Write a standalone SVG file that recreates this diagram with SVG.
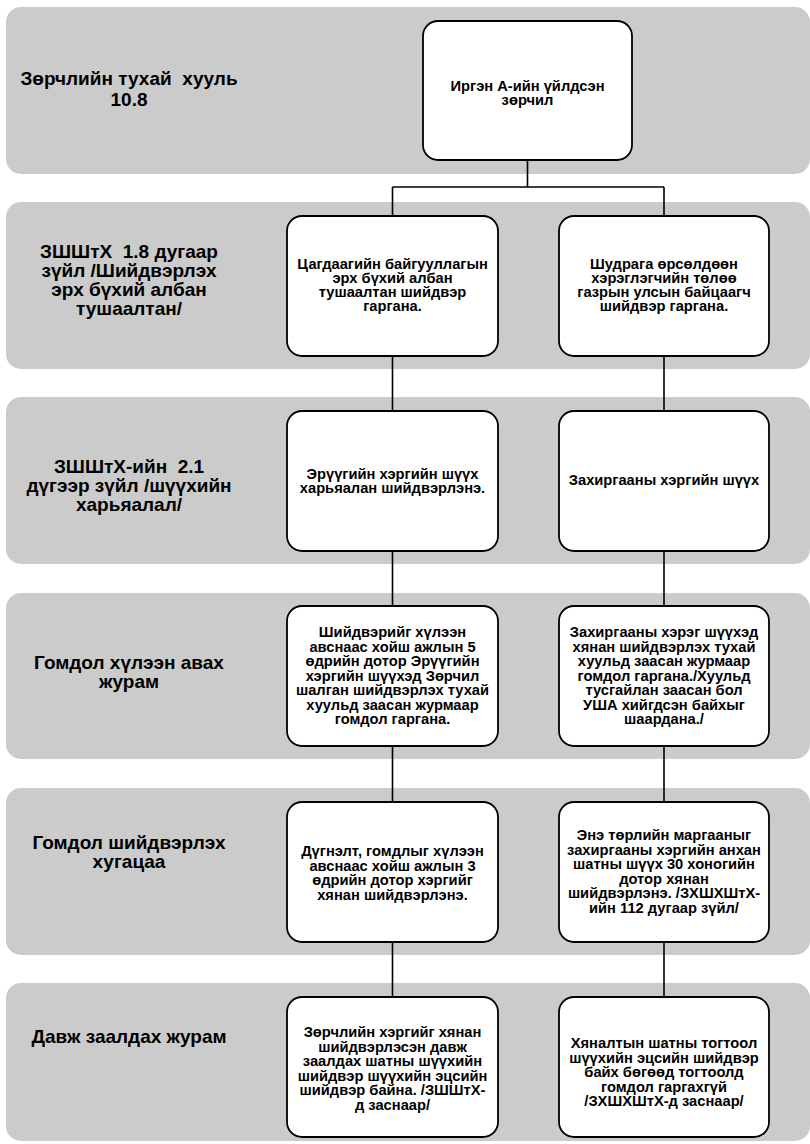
<svg xmlns="http://www.w3.org/2000/svg" width="810" height="1144" viewBox="0 0 810 1144">
<style>
.band{fill:#cbcbcb;stroke:none}
.box{fill:#ffffff;stroke:#000000;stroke-width:1.8}
.con{stroke:#000000;stroke-width:1.6;fill:none}
.lbl{font-family:"Liberation Sans",Arial,sans-serif;font-weight:bold;font-size:19px;fill:#000;text-anchor:middle}
.t{font-family:"Liberation Sans",Arial,sans-serif;font-weight:bold;font-size:14.7px;fill:#000;text-anchor:middle}
</style>
<rect width="810" height="1144" fill="#ffffff"/>
<g id="bands">
<g id="band1"><rect class="band" x="6" y="7" width="804" height="167" rx="15"/>
<text class="lbl" xml:space="preserve"><tspan x="129" y="85">Зөрчлийн тухай  хууль</tspan><tspan x="129" y="106">10.8</tspan></text></g>
<g id="band2"><rect class="band" x="6" y="202" width="804" height="167" rx="15"/>
<text class="lbl" xml:space="preserve"><tspan x="129" y="258">ЗШШтХ  1.8 дугаар</tspan><tspan x="129" y="277">зүйл /Шийдвэрлэх</tspan><tspan x="129" y="296">эрх бүхий албан</tspan><tspan x="129" y="315">тушаалтан/</tspan></text></g>
<g id="band3"><rect class="band" x="6" y="397" width="804" height="167" rx="15"/>
<text class="lbl" xml:space="preserve"><tspan x="129" y="473">ЗШШтХ-ийн  2.1</tspan><tspan x="129" y="492">дүгээр зүйл /шүүхийн</tspan><tspan x="129" y="511">харьяалал/</tspan></text></g>
<g id="band4"><rect class="band" x="6" y="593" width="804" height="166" rx="15"/>
<text class="lbl"><tspan x="129" y="669">Гомдол хүлээн авах</tspan><tspan x="129" y="688">журам</tspan></text></g>
<g id="band5"><rect class="band" x="6" y="788" width="804" height="167" rx="15"/>
<text class="lbl"><tspan x="129" y="849">Гомдол шийдвэрлэх</tspan><tspan x="129" y="868">хугацаа</tspan></text></g>
<g id="band6"><rect class="band" x="6" y="983" width="804" height="158" rx="15"/>
<text class="lbl"><tspan x="129" y="1043">Давж заалдах журам</tspan></text></g>
</g>
<g id="connectors">
<path class="con" d="M527.5 160 V187 M392.5 187 H664 M392.5 187 V216 M664 187 V216"/>
<path class="con" d="M392.5 356 V411 M392.5 551 V606 M392.5 746 V802 M392.5 942 V997"/>
<path class="con" d="M664 356 V411 M664 551 V606 M664 746 V802 M664 942 V997"/>
</g>
<g id="n0"><rect class="box" x="423" y="21" width="209" height="139" rx="15"/>
<text class="t"><tspan x="527.5" y="91">Иргэн А-ийн үйлдсэн</tspan><tspan x="527.5" y="105">зөрчил</tspan></text></g>
<g id="n1"><rect class="box" x="287" y="216" width="211" height="140" rx="15"/>
<text class="t"><tspan x="392.5" y="269">Цагдаагийн байгууллагын</tspan><tspan x="392.5" y="283">эрх бүхий албан</tspan><tspan x="392.5" y="297">тушаалтан шийдвэр</tspan><tspan x="392.5" y="311">гаргана.</tspan></text></g>
<g id="n2"><rect class="box" x="559" y="216" width="210" height="140" rx="15"/>
<text class="t"><tspan x="664" y="269">Шудрага өрсөлдөөн</tspan><tspan x="664" y="283">хэрэглэгчийн төлөө</tspan><tspan x="664" y="297">газрын улсын байцаагч</tspan><tspan x="664" y="311">шийдвэр гаргана.</tspan></text></g>
<g id="n3"><rect class="box" x="287" y="411" width="211" height="140" rx="15"/>
<text class="t"><tspan x="392.5" y="479">Эрүүгийн хэргийн шүүх</tspan><tspan x="392.5" y="493">харьяалан шийдвэрлэнэ.</tspan></text></g>
<g id="n4"><rect class="box" x="559" y="411" width="210" height="140" rx="15"/>
<text class="t"><tspan x="664" y="485">Захиргааны хэргийн шүүх</tspan></text></g>
<g id="n5"><rect class="box" x="287" y="606" width="211" height="140" rx="15"/>
<text class="t"><tspan x="392.5" y="637">Шийдвэрийг хүлээн</tspan><tspan x="392.5" y="651.5">авснаас хойш ажлын 5</tspan><tspan x="392.5" y="666">өдрийн дотор Эрүүгийн</tspan><tspan x="392.5" y="680.5">хэргийн шүүхэд Зөрчил</tspan><tspan x="392.5" y="695">шалган шийдвэрлэх тухай</tspan><tspan x="392.5" y="709.5">хуульд заасан журмаар</tspan><tspan x="392.5" y="724">гомдол гаргана.</tspan></text></g>
<g id="n6"><rect class="box" x="559" y="606" width="210" height="140" rx="15"/>
<text class="t"><tspan x="664" y="637">Захиргааны хэрэг шүүхэд</tspan><tspan x="664" y="651.5">хянан шийдвэрлэх тухай</tspan><tspan x="664" y="666">хуульд заасан журмаар</tspan><tspan x="664" y="680.5">гомдол гаргана./Хуульд</tspan><tspan x="664" y="695">тусгайлан заасан бол</tspan><tspan x="664" y="709.5">УША хийгдсэн байхыг</tspan><tspan x="664" y="724">шаардана./</tspan></text></g>
<g id="n7"><rect class="box" x="287" y="802" width="211" height="140" rx="15"/>
<text class="t"><tspan x="392.5" y="856">Дүгнэлт, гомдлыг хүлээн</tspan><tspan x="392.5" y="870.5">авснаас хойш ажлын 3</tspan><tspan x="392.5" y="885">өдрийн дотор хэргийг</tspan><tspan x="392.5" y="899.5">хянан шийдвэрлэнэ.</tspan></text></g>
<g id="n8"><rect class="box" x="559" y="802" width="210" height="140" rx="15"/>
<text class="t"><tspan x="664" y="840">Энэ төрлийн маргааныг</tspan><tspan x="664" y="854.5">захиргааны хэргийн анхан</tspan><tspan x="664" y="869">шатны шүүх 30 хоногийн</tspan><tspan x="664" y="883.5">дотор хянан</tspan><tspan x="664" y="898">шийдвэрлэнэ. /ЗХШХШтХ-</tspan><tspan x="664" y="912.5">ийн 112 дугаар зүйл/</tspan></text></g>
<g id="n9"><rect class="box" x="287" y="997" width="211" height="140" rx="15"/>
<text class="t"><tspan x="392.5" y="1037">Зөрчлийн хэргийг хянан</tspan><tspan x="392.5" y="1051.5">шийдвэрлэсэн давж</tspan><tspan x="392.5" y="1066">заалдах шатны шүүхийн</tspan><tspan x="392.5" y="1080.5">шийдвэр шүүхийн эцсийн</tspan><tspan x="392.5" y="1095">шийдвэр байна. /ЗШШтХ-</tspan><tspan x="392.5" y="1109.5">д заснаар/</tspan></text></g>
<g id="n10"><rect class="box" x="559" y="997" width="210" height="140" rx="15"/>
<text class="t"><tspan x="664" y="1048">Хяналтын шатны тогтоол</tspan><tspan x="664" y="1062.5">шүүхийн эцсийн шийдвэр</tspan><tspan x="664" y="1077">байх бөгөөд тогтоолд</tspan><tspan x="664" y="1091.5">гомдол гаргахгүй</tspan><tspan x="664" y="1106">/ЗХШХШтХ-д заснаар/</tspan></text></g>
</svg>
